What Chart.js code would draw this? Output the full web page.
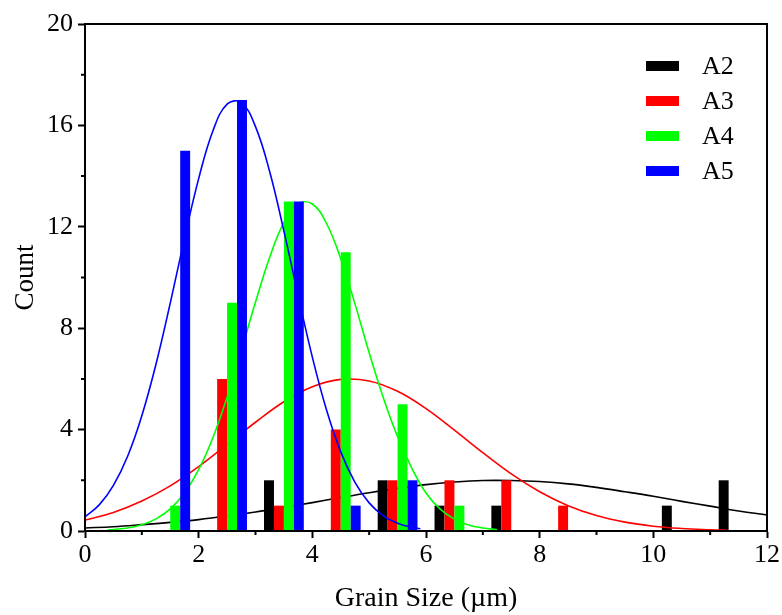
<!DOCTYPE html>
<html>
<head>
<meta charset="utf-8">
<script src="https://cdn.jsdelivr.net/npm/chart.js@4.4.1/dist/chart.umd.min.js"></script>
<style>
  html, body { margin: 0; padding: 0; background: #fff; }
  canvas { display: block; }
</style>
</head>
<body>
<canvas id="grainChart" width="782" height="615"></canvas>
<script>
// histogram bins (grain size, µm) and counts per sample
const binCenters = [0.5, 1.5, 2.5, 3.5, 4.5, 5.5, 6.5, 7.5, 8.5, 9.5, 10.5, 11.5]
const countA2 = [0, 0, 0, 2, 0, 2, 1, 1, 0, 0, 1, 2]
const countA3 = [0, 0, 6, 1, 4, 2, 2, 2, 1, 0, 0, 0]
const countA4 = [0, 1, 9, 13, 11, 5, 1, 0, 0, 0, 0, 0]
const countA5 = [0, 15, 17, 13, 1, 2, 0, 0, 0, 0, 0, 0]

// fitted distribution curves
const fitXA2 = [0, 0.5, 1, 1.5, 2, 2.5, 3, 3.5, 4, 4.5, 5, 5.5, 6, 6.5, 7, 7.5, 8, 8.5, 9, 9.5, 10, 10.5, 11, 11.5, 12]
const fitYA2 = [0.12, 0.17, 0.25, 0.34, 0.45, 0.59, 0.75, 0.93, 1.12, 1.32, 1.51, 1.68, 1.83, 1.93, 1.99, 1.99, 1.95, 1.86, 1.72, 1.55, 1.37, 1.17, 0.98, 0.79, 0.63]
const fitXA3 = [0, 0.5, 1, 1.5, 2, 2.5, 3, 3.5, 4, 4.5, 5, 5.5, 6, 6.5, 7, 7.5, 8, 8.5, 9, 9.5, 10, 10.5, 11, 11.3]
const fitYA3 = [0.43, 0.73, 1.18, 1.78, 2.54, 3.41, 4.29, 5.10, 5.69, 5.98, 5.92, 5.51, 4.83, 3.98, 3.09, 2.25, 1.55, 1.00, 0.61, 0.35, 0.19, 0.10, 0.05, 0.03]
const fitXA4 = [0.4, 0.5, 0.75, 1, 1.25, 1.5, 1.75, 2, 2.25, 2.5, 2.75, 3, 3.25, 3.5, 3.75, 4, 4.25, 4.5, 4.75, 5, 5.25, 5.5, 5.75, 6, 6.25, 6.5, 6.75, 7, 7.25]
const fitYA4 = [0.04, 0.06, 0.12, 0.25, 0.48, 0.87, 1.5, 2.42, 3.68, 5.27, 7.11, 9.03, 10.8, 12.17, 12.91, 12.9, 12.13, 10.74, 8.96, 7.03, 5.25, 3.72, 2.48, 1.5, 0.86, 0.47, 0.24, 0.12, 0.05]
const fitXA5 = [0, 0.25, 0.5, 0.75, 1, 1.25, 1.5, 1.75, 2, 2.25, 2.5, 2.75, 3, 3.25, 3.5, 3.75, 4, 4.25, 4.5, 4.75, 5, 5.25, 5.5, 5.75, 5.9]
const fitYA5 = [0.56, 1.03, 1.8, 2.95, 4.55, 6.59, 8.99, 11.53, 13.9, 15.78, 16.84, 16.9, 15.95, 14.17, 11.83, 9.29, 6.86, 4.77, 3.12, 1.92, 1.11, 0.6, 0.31, 0.15, 0.09]

const seriesNames = ['A2', 'A3', 'A4', 'A5']
const seriesCounts = [countA2, countA3, countA4, countA5]
const seriesFitX = [fitXA2, fitXA3, fitXA4, fitXA5]
const seriesFitY = [fitYA2, fitYA3, fitYA4, fitYA5]
const seriesColors = ['#000000', '#ff0000', '#00ff00', '#0000ff']

const toPoints = (xs, ys) => xs.map((x, i) => ({ x, y: ys[i] }))

const datasets = []
seriesNames.forEach((name, i) => {
    datasets.push({
        type: 'bar',
        label: name,
        data: toPoints(binCenters, seriesCounts[i]),
        backgroundColor: seriesColors[i],
        borderWidth: 0,
        categoryPercentage: 0.7,
        barPercentage: 1
    })
    datasets.push({
        type: 'line',
        label: name + ' fit',
        data: toPoints(seriesFitX[i], seriesFitY[i]),
        borderColor: seriesColors[i],
        borderWidth: 1.6,
        pointRadius: 0,
        tension: 0.4,
        fill: false
    })
})

// bars and curves drawn series by series (A2 first, A5 curve on top)
const drawInSeriesOrder = {
    id: 'drawInSeriesOrder',
    beforeDatasetsDraw(chart) {
        if (typeof chart._drawDataset !== 'function') return
        chart.getSortedVisibleDatasetMetas().forEach(meta => chart._drawDataset(meta))
        return false
    }
}

// box frame, short minor ticks and the legend inside the plot
const frameAndLegend = {
    id: 'frameAndLegend',
    afterDraw(chart) {
        const { ctx, chartArea: a, scales: { x, y } } = chart
        ctx.save()
        ctx.strokeStyle = '#000'
        ctx.lineWidth = 2
        ctx.strokeRect(a.left, a.top, a.right - a.left, a.bottom - a.top)

        ctx.beginPath()
        for (let v = x.min + 1; v < x.max; v += 2) {
            const px = x.getPixelForValue(v)
            ctx.moveTo(px, a.bottom)
            ctx.lineTo(px, a.bottom + 4)
        }
        for (let v = y.min + 2; v < y.max; v += 4) {
            const py = y.getPixelForValue(v)
            ctx.moveTo(a.left, py)
            ctx.lineTo(a.left - 4, py)
        }
        ctx.stroke()

        ctx.font = "26px 'Liberation Serif', 'Times New Roman', serif"
        ctx.textBaseline = 'middle'
        ctx.textAlign = 'left'
        chart.data.datasets.filter(d => d.type === 'bar').forEach((d, i) => {
            const rowY = a.top + 42 + i * 35
            ctx.fillStyle = d.backgroundColor
            ctx.fillRect(a.right - 121, rowY - 5, 33, 10)
            ctx.fillStyle = '#000'
            ctx.fillText(d.label, a.right - 65, rowY + 1)
        })
        ctx.restore()
    }
}

Chart.defaults.font.family = "'Liberation Serif', 'Times New Roman', serif"
Chart.defaults.color = '#000'

const chartGrain = new Chart(document.getElementById('grainChart').getContext('2d'), {
    type: 'bar',
    data: { datasets },
    options: {
        responsive: false,
        animation: false,
        layout: { padding: { top: 24, right: 14, left: 0, bottom: 0 } },
        plugins: {
            legend: { display: false },
            tooltip: { enabled: false }
        },
        scales: {
            x: {
                type: 'linear',
                min: 0,
                max: 12,
                offset: false,
                ticks: { stepSize: 2, color: '#000', font: { size: 26 }, padding: 2, maxRotation: 0, autoSkip: false },
                grid: { offset: false, drawOnChartArea: false, tickLength: 7, tickWidth: 2, tickColor: '#000' },
                border: { display: true, color: '#000', width: 2 },
                title: { display: true, text: 'Grain Size (µm)', color: '#000', font: { size: 28 }, padding: { top: 0, bottom: 0 } },
                afterFit: scale => { scale.height = 84 }
            },
            y: {
                min: 0,
                max: 20,
                ticks: { stepSize: 4, color: '#000', font: { size: 26 }, padding: 5 },
                grid: { drawOnChartArea: false, tickLength: 7, tickWidth: 2, tickColor: '#000' },
                border: { display: true, color: '#000', width: 2 },
                title: { display: true, text: 'Count', color: '#000', font: { size: 27 }, padding: { top: 10, bottom: 0 } },
                afterFit: scale => { scale.width = 85 }
            }
        }
    },
    plugins: [drawInSeriesOrder, frameAndLegend]
})
</script>
</body>
</html>
